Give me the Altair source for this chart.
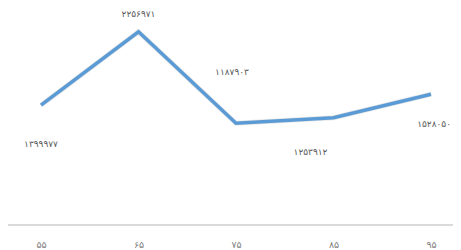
import altair as alt
import pandas as pd

years = ["۵۵", "۶۵", "۷۵", "۸۵", "۹۵"]
values = [1399977, 2256971, 1187903, 1253912, 1528050]
labels = ["۱۳۹۹۹۷۷", "۲۲۵۶۹۷۱", "۱۱۸۷۹۰۳", "۱۲۵۳۹۱۲", "۱۵۲۸۰۵۰"]

df = pd.DataFrame({"year": years, "value": values, "label": labels})

# label offsets (style)
offsets = [(0, 39, "center"), (0, -18, "center"), (-4, -51, "center"),
           (-23, 34, "center"), (20, 30, "right")]

x = alt.X("year:N", sort=years, title=None,
          scale=alt.Scale(type="point", range=[33, 423], padding=0),
          axis=alt.Axis(labelAngle=0, ticks=False, domain=False,
                        labelFontSize=9.5, labelColor="#7f7f7f",
                        labelFont="DejaVu Sans", labelPadding=14, grid=False))
y = alt.Y("value:Q", scale=alt.Scale(domain=[0, 2500000], nice=False),
          axis=None)

base = alt.Chart(df)
baseline = base.mark_rule(color="#d9d9d9", strokeWidth=1).encode(
    x=alt.value(-8), x2=alt.value(453), y=alt.value(214))
shadow = base.mark_line(color="#7f7f7f", strokeWidth=5, opacity=0.18).encode(x=x, y=y)
line = base.mark_line(color="#5B9BD5", strokeWidth=3.5).encode(x=x, y=y)

layers = [baseline, shadow, line]
for i, (dx, dy, al) in enumerate(offsets):
    layers.append(
        base.transform_filter(alt.datum.year == years[i])
        .mark_text(font="DejaVu Sans", fontSize=9, color="#595959",
                   dx=dx, dy=dy, align=al, baseline="middle")
        .encode(x=x, y=y, text="label:N")
    )

chart = alt.layer(*layers).properties(
    width=445, height=214,
    autosize=alt.AutoSizeParams(type="none"),
    padding={"left": 0, "top": 3, "right": 0, "bottom": 26},
).configure_view(stroke=None)

chart.save("out.html", embed_options={"renderer": "svg", "actions": False})
